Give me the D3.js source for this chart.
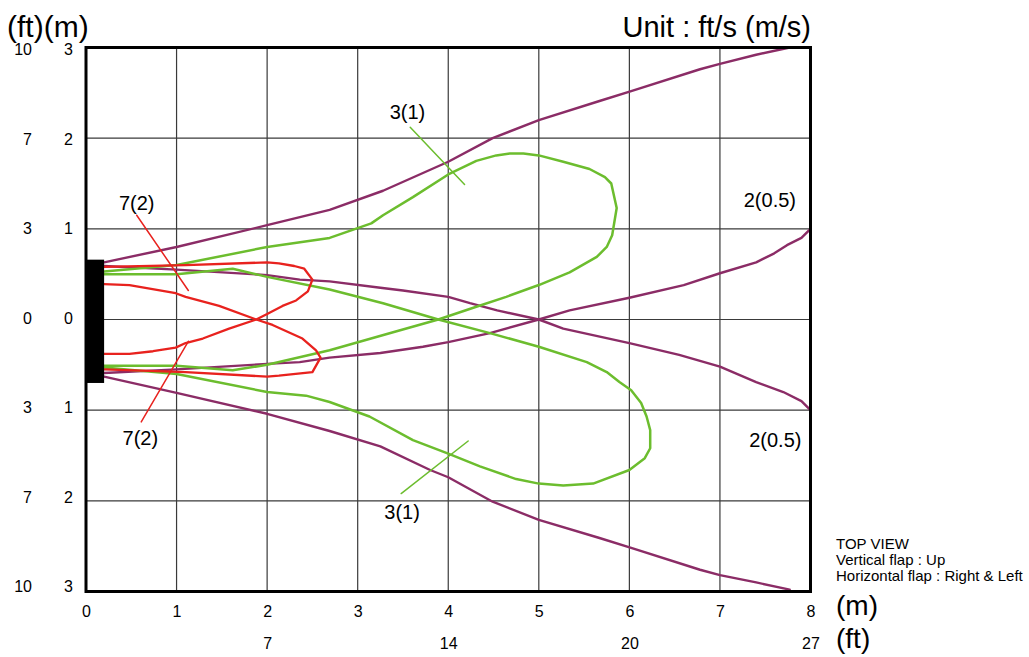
<!DOCTYPE html>
<html>
<head>
<meta charset="utf-8">
<script src="https://cdn.jsdelivr.net/npm/d3@7"></script>
<style>
  body { margin: 0; background: #fff; }
  svg { display: block; font-family: 'Liberation Sans', Arial, sans-serif; }
  .grid line { stroke: #3a3a3a; stroke-width: 1.2; }
  .curve { fill: none; stroke-linejoin: round; stroke-linecap: round; }
</style>
</head>
<body>
<div id="wrapper"></div>
<script>
// distance from unit (m) and velocity lines
const xTicksM = [0, 1, 2, 3, 4, 5, 6, 7, 8]
const xTicksFt = [[2, '7'], [4, '14'], [6, '20'], [8, '27']]
const yTicksM = [3, 2, 1, 0, -1, -2, -3]
const yTickLabelsM = ['3', '2', '1', '0', '1', '2', '3']
const yTickLabelsFt = ['10', '7', '3', '0', '3', '7', '10']

const heater = [0, 0.2, -0.7, 0.66]

const purpleOuterTop = [[0.2,0.63],[1.0,0.80],[2.0,1.04],[2.69,1.21],[3.28,1.42],[4.0,1.74],[4.49,2.0],[5.0,2.2],[5.67,2.41],[6.02,2.52],[6.78,2.76],[7.0,2.82],[7.4,2.92],[7.77,3.0]]
const purpleOuterBottom = [[0.2,-0.63],[1.0,-0.81],[2.0,-1.04],[2.69,-1.23],[3.25,-1.40],[3.8,-1.66],[4.0,-1.74],[4.49,-2.01],[5.0,-2.21],[5.67,-2.41],[6.02,-2.52],[6.78,-2.76],[7.0,-2.82],[7.4,-2.9],[7.77,-2.98]]
const purpleCrossDown = [[0.2,0.59],[1.0,0.55],[2.0,0.49],[2.36,0.44],[2.69,0.42],[3.25,0.35],[3.5,0.32],[4.0,0.25],[4.24,0.18],[4.54,0.10],[5.0,0.0],[5.27,-0.1],[6.0,-0.26],[6.55,-0.39],[7.0,-0.52],[7.4,-0.69],[7.7,-0.8],[7.9,-0.9],[8.0,-1.0]]
const purpleCrossUp = [[0.2,-0.59],[1.0,-0.55],[2.0,-0.49],[2.36,-0.47],[2.69,-0.42],[3.25,-0.37],[3.72,-0.30],[4.0,-0.25],[4.46,-0.15],[5.0,0.0],[5.34,0.10],[6.0,0.24],[6.6,0.38],[7.0,0.51],[7.4,0.63],[7.6,0.73],[7.74,0.82],[7.9,0.9],[8.0,1.0]]

const greenTopLoop = [[0.2,0.53],[1.0,0.60],[2.0,0.80],[2.69,0.90],[3.15,1.06],[3.28,1.15],[3.61,1.35],[4.0,1.60],[4.31,1.75],[4.53,1.81],[4.68,1.83],[4.83,1.83],[5.0,1.81],[5.27,1.74],[5.56,1.66],[5.73,1.57],[5.80,1.50],[5.86,1.23],[5.81,0.93],[5.75,0.80],[5.64,0.69],[5.34,0.52],[5.0,0.38],[4.64,0.25],[4.31,0.14],[3.89,0.0],[3.43,-0.13],[2.69,-0.34],[2.0,-0.50],[1.62,-0.56],[1.0,-0.51],[0.2,-0.51]]
const greenBottomLoop = [[0.2,-0.53],[1.0,-0.60],[2.0,-0.80],[2.43,-0.84],[2.69,-0.91],[3.13,-1.07],[3.61,-1.33],[4.0,-1.48],[4.35,-1.62],[4.75,-1.76],[5.0,-1.81],[5.27,-1.83],[5.6,-1.81],[6.0,-1.66],[6.17,-1.53],[6.23,-1.42],[6.23,-1.22],[6.19,-1.07],[6.13,-0.92],[6.02,-0.78],[5.89,-0.69],[5.75,-0.58],[5.53,-0.47],[5.0,-0.30],[4.46,-0.15],[3.89,0.0],[3.28,0.18],[2.69,0.33],[2.0,0.47],[1.62,0.56],[1.0,0.50],[0.2,0.50]]

const redTopLoop = [[0.2,0.39],[0.48,0.38],[0.99,0.29],[1.10,0.25],[1.47,0.15],[1.88,0.0],[2.06,-0.06],[2.39,-0.21],[2.54,-0.34],[2.59,-0.42],[2.50,-0.58],[2.13,-0.62],[2.0,-0.63],[1.10,-0.58],[0.2,-0.55]]
const redBottomLoop = [[0.2,-0.38],[0.48,-0.38],[0.74,-0.35],[0.99,-0.31],[1.10,-0.26],[1.29,-0.21],[1.58,-0.10],[1.88,0.0],[2.0,0.06],[2.17,0.15],[2.32,0.21],[2.45,0.31],[2.50,0.44],[2.41,0.56],[2.30,0.59],[2.13,0.62],[2.0,0.63],[1.10,0.60],[0.2,0.58]]

// speed labels: text, anchor point, leader line
const labelTexts = ['3(1)', '3(1)', '7(2)', '7(2)', '2(0.5)', '2(0.5)']
const labelPoints = [[3.55,2.21],[3.49,-2.2],[0.56,1.21],[0.6,-1.38],[7.84,1.24],[7.9,-1.41]]
const labelAnchors = ['middle', 'middle', 'middle', 'middle', 'end', 'end']
const leaderGreen = [[[3.58,2.12],[4.18,1.49]], [[3.48,-1.92],[4.22,-1.34]]]
const leaderRed = [[[0.56,1.15],[1.13,0.32]], [[0.61,-1.13],[1.13,-0.24]]]

const noteLines = ['TOP VIEW', 'Vertical flap : Up', 'Horizontal flap : Right & Left']

function drawChart() {

  //1.dimensions
  const dimensions = {
    width: 1029,
    height: 657,
    margin: { top: 47.5, right: 218.5, bottom: 65.5, left: 86 }
  }
  dimensions.boundedWidth = dimensions.width - dimensions.margin.left - dimensions.margin.right
  dimensions.boundedHeight = dimensions.height - dimensions.margin.top - dimensions.margin.bottom

  //2.canvas
  const wrapper = d3.select('#wrapper')
    .append('svg')
      .attr('width', dimensions.width)
      .attr('height', dimensions.height)

  const bounds = wrapper.append('g')
    .attr('transform', `translate(${dimensions.margin.left}, ${dimensions.margin.top})`)

  //3.scales
  const xScale = d3.scaleLinear()
    .domain([0, 8])
    .range([0, dimensions.boundedWidth])
  const yScale = d3.scaleLinear()
    .domain([-3, 3])
    .range([dimensions.boundedHeight, 0])

  //4.grid
  const grid = bounds.append('g').attr('class', 'grid')
  grid.selectAll('.vx')
    .data(xTicksM.slice(1, -1))
    .enter().append('line')
      .attr('x1', d => xScale(d)).attr('x2', d => xScale(d))
      .attr('y1', 0).attr('y2', dimensions.boundedHeight)
  grid.selectAll('.hy')
    .data(yTicksM.slice(1, -1))
    .enter().append('line')
      .attr('y1', d => yScale(d)).attr('y2', d => yScale(d))
      .attr('x1', 0).attr('x2', dimensions.boundedWidth)

  //5.curves
  const lineGenerator = d3.line()
    .x(d => xScale(d[0]))
    .y(d => yScale(d[1]))

  const series = [
    { pts: purpleOuterTop, color: '#8b2c66', w: 2.4 },
    { pts: purpleOuterBottom, color: '#8b2c66', w: 2.4 },
    { pts: purpleCrossDown, color: '#8b2c66', w: 2.4 },
    { pts: purpleCrossUp, color: '#8b2c66', w: 2.4 },
    { pts: greenTopLoop, color: '#6cbd2e', w: 2.5 },
    { pts: greenBottomLoop, color: '#6cbd2e', w: 2.5 },
    { pts: redTopLoop, color: '#e8221e', w: 2.3 },
    { pts: redBottomLoop, color: '#e8221e', w: 2.3 }
  ]
  bounds.selectAll('.curve')
    .data(series)
    .enter().append('path')
      .attr('class', 'curve')
      .attr('d', d => lineGenerator(d.pts))
      .attr('stroke', d => d.color)
      .attr('stroke-width', d => d.w)

  // leader lines
  bounds.selectAll('.leader-g')
    .data(leaderGreen)
    .enter().append('path')
      .attr('class', 'curve')
      .attr('d', lineGenerator)
      .attr('stroke', '#6cbd2e')
      .attr('stroke-width', 1.5)
  bounds.selectAll('.leader-r')
    .data(leaderRed)
    .enter().append('path')
      .attr('class', 'curve')
      .attr('d', lineGenerator)
      .attr('stroke', '#e8221e')
      .attr('stroke-width', 1.5)

  // heater unit
  bounds.append('rect')
    .attr('x', xScale(heater[0]))
    .attr('y', yScale(heater[3]))
    .attr('width', xScale(heater[1]) - xScale(heater[0]))
    .attr('height', yScale(heater[2]) - yScale(heater[3]))
    .attr('fill', '#000')

  // frame
  bounds.append('rect')
    .attr('width', dimensions.boundedWidth)
    .attr('height', dimensions.boundedHeight)
    .attr('fill', 'none')
    .attr('stroke', '#000')
    .attr('stroke-width', 3)

  //6.labels
  bounds.selectAll('.speed')
    .data(labelTexts)
    .enter().append('text')
      .attr('x', (d, i) => xScale(labelPoints[i][0]))
      .attr('y', (d, i) => yScale(labelPoints[i][1]))
      .attr('text-anchor', (d, i) => labelAnchors[i])
      .style('font-size', '20px')
      .text(d => d)

  // axes (text only)
  const xAxisM = d3.axisBottom(xScale)
    .tickValues(xTicksM)
    .tickFormat(d3.format('d'))
    .tickSize(0)
    .tickPadding(14)
  const xAxisMGroup = bounds.append('g')
    .attr('transform', `translate(0, ${dimensions.boundedHeight})`)
    .call(xAxisM)
  
  const xAxisFt = d3.axisBottom(xScale)
    .tickValues(xTicksFt.map(d => d[0]))
    .tickFormat((d, i) => xTicksFt[i][1])
    .tickSize(0)
    .tickPadding(46)
  const xAxisFtGroup = bounds.append('g')
    .attr('transform', `translate(0, ${dimensions.boundedHeight})`)
    .call(xAxisFt)

  const yAxisM = d3.axisLeft(yScale)
    .tickValues(yTicksM)
    .tickFormat((d, i) => yTickLabelsM[i])
    .tickSize(0)
    .tickPadding(13)
  const yAxisMGroup = bounds.append('g').call(yAxisM)

  const yAxisFt = d3.axisLeft(yScale)
    .tickValues(yTicksM)
    .tickFormat((d, i) => yTickLabelsFt[i])
    .tickSize(0)
    .tickPadding(54)
  const yAxisFtGroup = bounds.append('g').call(yAxisFt)

  ;[xAxisMGroup, xAxisFtGroup, yAxisMGroup, yAxisFtGroup].forEach(g => {
    g.select('.domain').remove()
    g.selectAll('text')
      .attr('fill', '#000')
      .style('font-size', '16px')
      .style('font-family', "'Liberation Sans', Arial, sans-serif")
  })
  // left labels sit a little inside the frame at top and bottom
  ;[yAxisMGroup, yAxisFtGroup].forEach(g => {
    g.selectAll('.tick')
      .attr('transform', d => `translate(0, ${yScale(d) + d * 1.2 - 1})`)
  })

  // unit texts
  wrapper.append('text')
    .attr('x', 7).attr('y', 37)
    .style('font-size', '30px')
    .text('(ft)(m)')
  wrapper.append('text')
    .attr('x', 811).attr('y', 37)
    .attr('text-anchor', 'end')
    .style('font-size', '29px')
    .text('Unit : ft/s (m/s)')
  wrapper.append('text')
    .attr('x', 836).attr('y', 615)
    .style('font-size', '28px')
    .text('(m)')
  wrapper.append('text')
    .attr('x', 836).attr('y', 648)
    .style('font-size', '28px')
    .text('(ft)')

  wrapper.selectAll('.note')
    .data(noteLines)
    .enter().append('text')
      .attr('x', 836)
      .attr('y', (d, i) => 549 + i * 16)
      .style('font-size', '15px')
      .text(d => d)
}
drawChart()
</script>
</body>
</html>
